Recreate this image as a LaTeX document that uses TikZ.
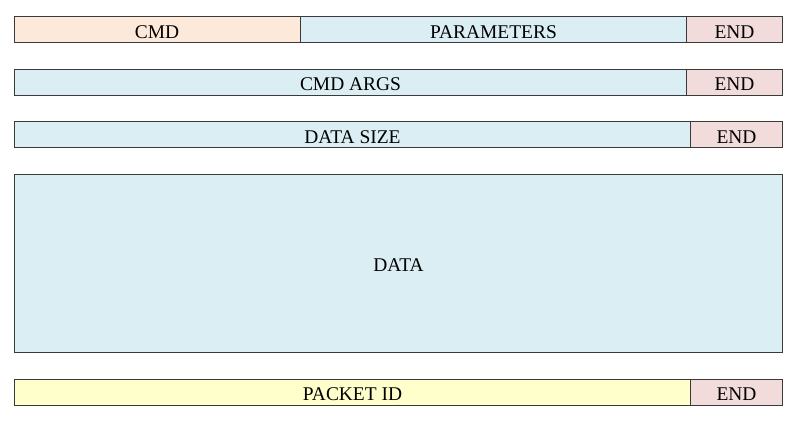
\documentclass[tikz,border=0pt]{standalone}
\usepackage{fontspec}
\setmainfont{Liberation Serif}
\definecolor{cmdfill}{HTML}{FCE9DA}
\definecolor{datafill}{HTML}{DBEEF3}
\definecolor{endfill}{HTML}{F2DCDB}
\definecolor{idfill}{HTML}{FFFFCC}
\definecolor{edge}{HTML}{3A3A3A}
\begin{document}
\begin{tikzpicture}[x=1bp,y=-1bp,
  field/.style={draw=edge,line width=0.9bp,inner sep=0pt,outer sep=0pt,
    text height=17.5bp,text depth=0pt,
    font=\fontsize{19.5}{20}\selectfont,text=black}]
\useasboundingbox (0,0) rectangle (800,427);
% row 1: command packet
\node[field,fill=cmdfill,minimum width=286bp,minimum height=26bp] (cmd) at (157,29.5) {CMD};
\node[field,fill=datafill,minimum width=386bp,minimum height=26bp] (params) at (493.5,29.5) {PARAMETERS};
\node[field,fill=endfill,minimum width=96bp,minimum height=26bp] (end1) at (734.5,29.5) {END};
% row 2: command arguments
\node[field,fill=datafill,minimum width=672bp,minimum height=26bp] (args) at (350.5,82) {CMD ARGS};
\node[field,fill=endfill,minimum width=96bp,minimum height=26bp] (end2) at (734.5,82) {END};
% row 3: data size
\node[field,fill=datafill,minimum width=676bp,minimum height=26bp] (size) at (352.5,134.5) {DATA SIZE};
\node[field,fill=endfill,minimum width=92bp,minimum height=26bp] (end3) at (736.5,134.5) {END};
% row 4: payload
\node[field,fill=datafill,minimum width=768bp,minimum height=178bp] (data) at (398.5,263) {DATA};
% row 5: packet id
\node[field,fill=idfill,minimum width=676bp,minimum height=26bp] (pid) at (352.5,392) {PACKET ID};
\node[field,fill=endfill,minimum width=92bp,minimum height=26bp] (end5) at (736.5,392) {END};
\end{tikzpicture}
\end{document}
